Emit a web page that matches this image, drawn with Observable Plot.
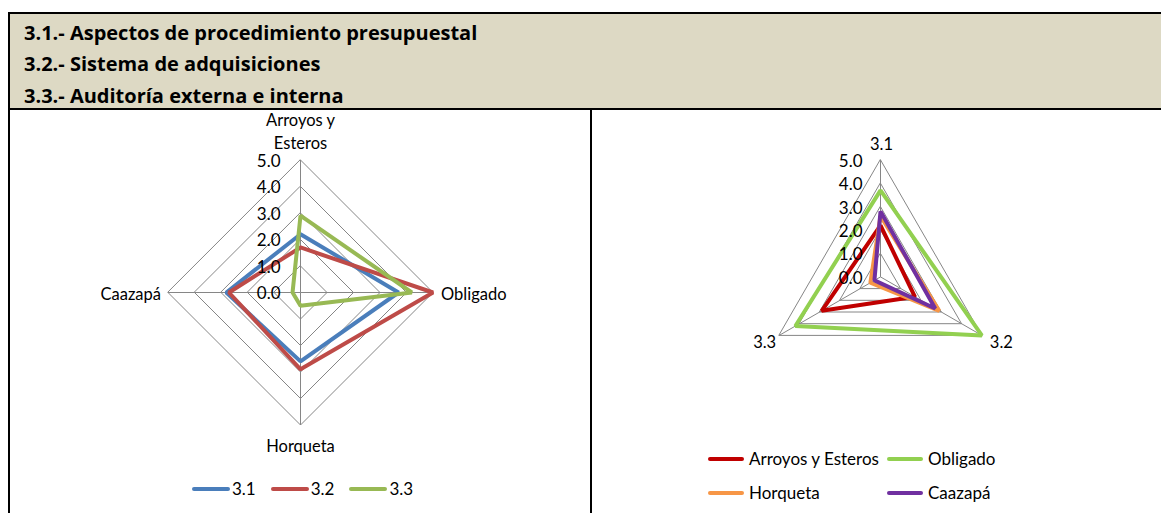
<!DOCTYPE html>
<html>
<head>
<meta charset="utf-8">
<script src="https://cdn.jsdelivr.net/npm/d3@7"></script>
<script src="https://cdn.jsdelivr.net/npm/@observablehq/plot@0.6"></script>
<style>
  html, body { margin: 0; padding: 0; background: #fff; }
  #page { position: relative; width: 1161px; height: 513px; overflow: hidden; font-family: Lato, "Open Sans", sans-serif; color: #000; }
  #header { position: absolute; left: 8px; top: 12px; width: 1160px; height: 94px; background: #ddd9c4;
            border-top: 2px solid #000; border-left: 2px solid #000; border-bottom: 2px solid #000; }
  #header div { position: absolute; left: 14px; font-family: "Open Sans", sans-serif; font-weight: 700; font-size: 20px; line-height: 20px; white-space: nowrap; }
  .rule { position: absolute; background: #000; }
  .chart { position: absolute; top: 110px; }
  .legend { position: absolute; font-size: 17px; line-height: 20px; }
  .legend .item { display: flex; align-items: center; white-space: nowrap; }
  .legend .swatch { display: inline-block; height: 4px; border-radius: 2px; }
</style>
</head>
<body>
<div id="page">
  <div id="header"></div>
  <div class="rule" style="left:8px;top:110px;width:2px;height:403px"></div>
  <div class="rule" style="left:590px;top:110px;width:2px;height:403px"></div>
  <div id="left" class="chart" style="left:10px"></div>
  <div id="right" class="chart" style="left:592px"></div>
  <div id="legendLeft" class="legend" style="left:192px;top:479px;display:flex;gap:15px"></div>
  <div id="legendRight" class="legend" style="left:708px;top:449px;display:grid;grid-template-columns:179px 179px;row-gap:14px"></div>
</div>
<script>
// Section headings
const titulos = [
  "3.1.- Aspectos de procedimiento presupuestal",
  "3.2.- Sistema de adquisiciones",
  "3.3.- Auditoría externa e interna"
];

// Municipalities and indicators
const municipios = ["Arroyos y Esteros", "Obligado", "Horqueta", "Caazapá"];
const etiquetasMunicipios = ["Arroyos y\nEsteros", "Obligado", "Horqueta", "Caazapá"];
const indicadores = ["3.1", "3.2", "3.3"];

// Scores per indicator, one value per municipality (same order as municipios)
const valores31 = [2.2, 3.7, 2.6, 2.8];
const valores32 = [1.7, 5.0, 2.9, 2.7];
const valores33 = [2.9, 4.2, 0.5, 0.3];

// Radial axis levels
const niveles = [0, 1, 2, 3, 4, 5];

const coloresIndicadores = ["#4a7ebb", "#be4b48", "#98b954"];
const coloresMunicipios = ["#c00000", "#92d050", "#f79646", "#7030a0"];

// Header lines
const header = document.getElementById("header");
titulos.forEach((t, i) => {
  const d = document.createElement("div");
  d.textContent = t;
  d.style.top = (8.5 + i * 31.5) + "px";
  header.appendChild(d);
});

// Generic radar chart drawn on linear x/y scales
function radar({ejes, etiquetas, series, colores, ancho, alto, cx, cy, unidad, tickDx, offsets}) {
  const n = ejes.length;
  const angulo = i => Math.PI / 2 - 2 * Math.PI * i / n;
  const punto = (i, v) => ({x: v * Math.cos(angulo(i)), y: v * Math.sin(angulo(i))});
  const maximo = d3.max(niveles);

  const rejilla = niveles.filter(v => v > 0).flatMap(nivel => ejes.map((e, i) => ({nivel, ...punto(i, nivel)})));
  const radios = ejes.map((e, i) => {
    const p = punto(i, maximo);
    return {x1: 0, y1: 0, x2: p.x, y2: p.y};
  });
  const lineas = series.flatMap(s => s.valores.map((v, i) => ({serie: s.nombre, eje: ejes[i], valor: v, ...punto(i, v)})));
  const marcas = niveles.map(v => ({texto: v.toFixed(1), x: 0, y: v}));
  const rotulos = ejes.map((e, i) => ({texto: etiquetas[i], ...punto(i, maximo), ...offsets[i]}));

  return Plot.plot({
    width: ancho,
    height: alto,
    margin: 0,
    x: {domain: [-cx / unidad, (ancho - cx) / unidad], range: [0, ancho], axis: null},
    y: {domain: [-(alto - cy) / unidad, cy / unidad], range: [alto, 0], axis: null},
    color: {domain: series.map(s => s.nombre), range: colores},
    style: {fontFamily: "Lato, 'Open Sans', sans-serif", fontSize: "16px", background: "transparent", overflow: "visible", color: "#000"},
    marks: [
      Plot.line(rejilla, {x: "x", y: "y", z: "nivel", curve: "linear-closed", stroke: "#868686", strokeWidth: 1}),
      Plot.link(radios, {x1: "x1", y1: "y1", x2: "x2", y2: "y2", stroke: "#868686", strokeWidth: 1}),
      Plot.line(lineas, {x: "x", y: "y", z: "serie", stroke: "serie", curve: "linear-closed", strokeWidth: 4, strokeLinejoin: "miter"}),
      Plot.text(marcas, {x: "x", y: "y", text: "texto", textAnchor: "end", dx: tickDx, dy: 1.5, fontSize: 17, fill: "#000"}),
      ...rotulos.map(r => Plot.text([r], {x: "x", y: "y", text: "texto", textAnchor: r.anchor, dx: r.dx, dy: r.dy, fontSize: 16.5, fill: "#000", lineHeight: 1.4}))
    ]
  });
}

// Left: municipalities as axes, indicators as series
const seriesIzq = [
  {nombre: indicadores[0], valores: valores31},
  {nombre: indicadores[1], valores: valores32},
  {nombre: indicadores[2], valores: valores33}
];
document.getElementById("left").appendChild(radar({
  ejes: municipios,
  etiquetas: etiquetasMunicipios,
  series: seriesIzq,
  colores: coloresIndicadores,
  ancho: 580, alto: 403, cx: 290, cy: 182, unidad: 26.5, tickDx: -20,
  offsets: [
    {anchor: "middle", dx: 0, dy: -30},
    {anchor: "start", dx: 8, dy: 0},
    {anchor: "middle", dx: 0, dy: 20},
    {anchor: "end", dx: -7, dy: 0}
  ]
}));

// Right: indicators as axes, municipalities as series
const seriesDer = municipios.map((m, i) => ({nombre: m, valores: [valores31[i], valores32[i], valores33[i]]}));
document.getElementById("right").appendChild(radar({
  ejes: indicadores,
  etiquetas: indicadores,
  series: seriesDer,
  colores: coloresMunicipios,
  ancho: 569, alto: 403, cx: 288, cy: 166.4, unidad: 23.4, tickDx: -18,
  offsets: [
    {anchor: "middle", dx: 1, dy: -17},
    {anchor: "start", dx: 8, dy: 5},
    {anchor: "end", dx: -3, dy: 5}
  ]
}));

// Legends
function leyenda(id, nombres, colores, anchoLinea, separacion) {
  const cont = document.getElementById(id);
  nombres.forEach((n, i) => {
    const item = document.createElement("div");
    item.className = "item";
    const sw = document.createElement("span");
    sw.className = "swatch";
    sw.style.width = anchoLinea + "px";
    sw.style.background = colores[i];
    sw.style.marginRight = separacion + "px";
    const tx = document.createElement("span");
    tx.textContent = n;
    item.appendChild(sw);
    item.appendChild(tx);
    cont.appendChild(item);
  });
}
leyenda("legendLeft", indicadores, coloresIndicadores, 38, 2);
leyenda("legendRight", municipios, coloresMunicipios, 36, 5);
</script>
</body>
</html>
